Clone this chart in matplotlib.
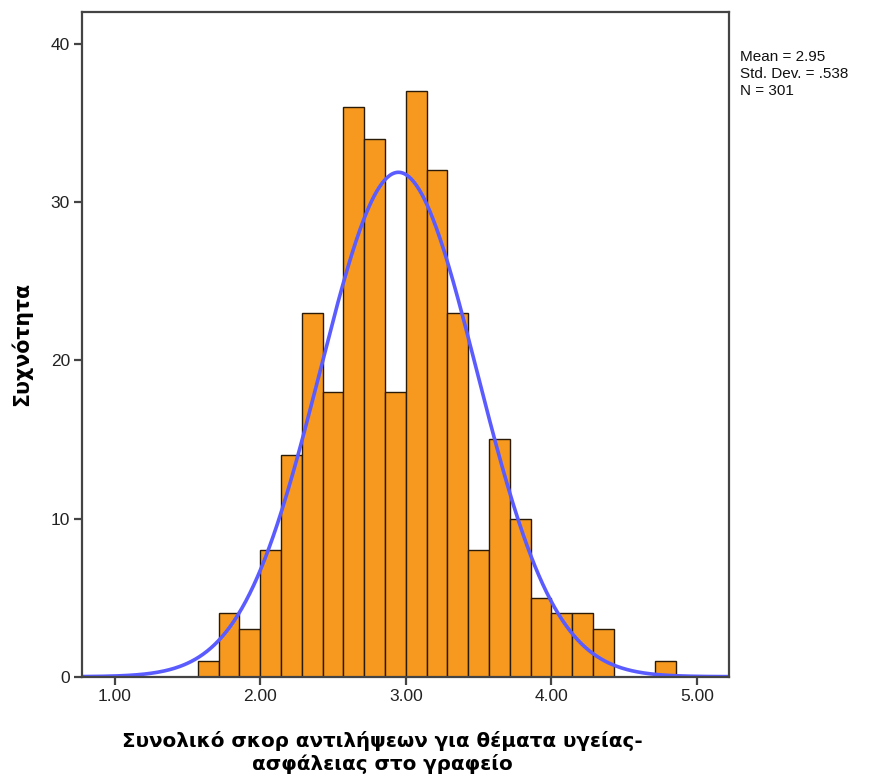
import numpy as np
import matplotlib
matplotlib.use('Agg')
import matplotlib.pyplot as plt

# histogram bins: width 1/7, starting at 11/7
bin_start = 11 / 7
bin_width = 1 / 7
counts = [1, 4, 3, 8, 14, 23, 18, 36, 34, 18, 37, 32, 23, 8, 15, 10, 5, 4, 4, 3, 0, 0, 1]

mean = 2.95
std = 0.538
n = 301

x_ticks = [1.0, 2.0, 3.0, 4.0, 5.0]
y_ticks = [0, 10, 20, 30, 40]

x_label = 'Συνολικό σκορ αντιλήψεων για θέματα υγείας-\nασφάλειας στο γραφείο'
y_label = 'Συχνότητα'

edges = bin_start + bin_width * np.arange(len(counts) + 1)

fig = plt.figure(figsize=(8.71, 7.78), dpi=100)
ax = fig.add_axes([0.0947, 0.1302, 0.8373 - 0.0947, 0.985 - 0.1302])

ax.bar(edges[:-1], counts, width=bin_width, align='edge',
       color='#f7991f', edgecolor='#2a1a08', linewidth=1.0)

xs = np.linspace(0.78, 5.222, 500)
pdf = n * bin_width / (std * np.sqrt(2 * np.pi)) * np.exp(-0.5 * ((xs - mean) / std) ** 2)
ax.plot(xs, pdf, color='#5a5cff', linewidth=2.6, solid_capstyle='round')

ax.set_xlim(0.78, 5.222)
ax.set_ylim(0, 42.04)
ax.set_xticks(x_ticks)
ax.set_xticklabels(['%.2f' % t for t in x_ticks])
ax.set_yticks(y_ticks)

for sp in ax.spines.values():
    sp.set_color('#444444')
    sp.set_linewidth(1.6)

ax.tick_params(axis='both', direction='out', length=6, width=1.6, color='#444444',
               labelsize=12.5, labelcolor='#222222', pad=3)
for lab in ax.get_xticklabels() + ax.get_yticklabels():
    lab.set_fontfamily('Liberation Sans')

ax.set_xlabel(x_label, fontsize=14.3, fontweight='bold', family='DejaVu Sans',
              linespacing=1.2)
ax.xaxis.set_label_coords(0.463, -0.082)
ax.xaxis.label.set_va('top')
ax.set_ylabel(y_label, fontsize=14.8, fontweight='bold', family='DejaVu Sans')
ax.yaxis.set_label_coords(-0.078, 0.5)

fig.text(740 / 871, 1 - 50 / 778, 'Mean = 2.95\nStd. Dev. = .538\nN = 301',
         fontsize=11, family='Liberation Sans', color='#111111', va='top', ha='left',
         linespacing=1.27)

fig.savefig('out.png', dpi=100)
